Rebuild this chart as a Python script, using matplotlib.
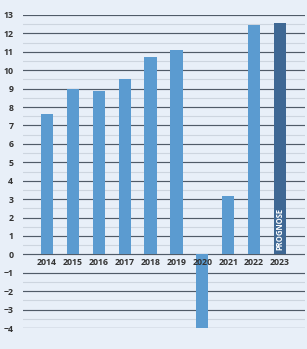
import matplotlib
matplotlib.use("Agg")
import matplotlib.pyplot as plt
import numpy as np

years = ["2014", "2015", "2016", "2017", "2018", "2019", "2020", "2021", "2022", "2023"]
values = [7.6, 9.0, 8.85, 9.5, 10.74, 11.1, -4.0, 3.15, 12.48, 12.54]
bar_colors = ["#5b9bd0"] * 9 + ["#3f6894"]
y_ticks = list(range(-4, 14))
forecast_label = "PROGNOSE"

bg = "#e8eff8"
fig = plt.figure(figsize=(3.07, 3.49), dpi=100, facecolor=bg)
ax = fig.add_axes([23/307, 21/349, 282/307, 313/349], facecolor=bg)

x = np.arange(len(years))
# gridlines
for t in y_ticks:
    ax.axhline(t, color="#505b68", lw=0.85, zorder=1)
for t in np.arange(-3.5, 13, 1.0):
    if t == -0.5:
        continue
    ax.axhline(t, color="#cdd5df", lw=0.8, zorder=1)

ax.bar(x, values, width=0.47, color=bar_colors, zorder=3)

ax.set_ylim(-4, 13)
ax.set_xlim(-0.927, 9.965)
for s in ax.spines.values():
    s.set_visible(False)
ax.set_xticks([])
ax.set_yticks(y_ticks)
ax.set_yticklabels([str(t).replace("-", "\u2212") for t in y_ticks],
                   fontsize=6.3, fontfamily="Open Sans", fontweight="bold", color="#333333")
ax.tick_params(axis="y", length=0, pad=7)

for xi, yr in zip(x, years):
    ax.annotate(yr, (xi, 0), xytext=(0, -6.0), textcoords="offset points",
                ha="center", va="center", fontsize=6.3, fontfamily="Open Sans",
                fontweight="bold", color="#333333", zorder=4)

ax.text(x[-1], 0.25, forecast_label, rotation=90, ha="center", va="bottom",
        fontsize=5.5, fontfamily="Open Sans", fontweight="bold", color="white", zorder=5)

fig.savefig("out.png", dpi=100, facecolor=bg)
